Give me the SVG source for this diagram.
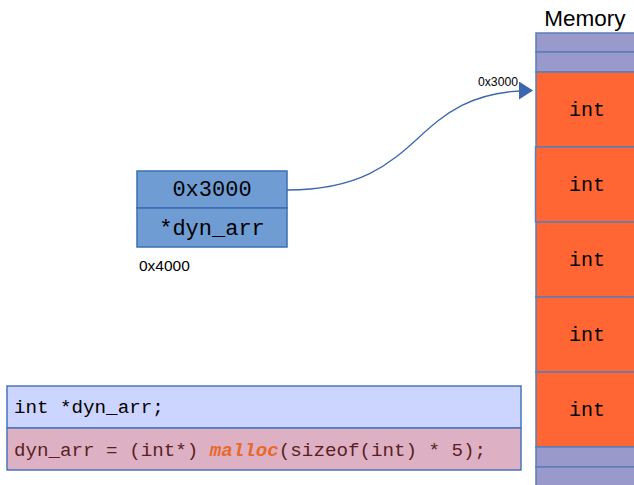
<svg xmlns="http://www.w3.org/2000/svg" width="634" height="485" viewBox="0 0 634 485">
  <style>
    .mono { font-family: "Liberation Mono", "DejaVu Sans Mono", monospace; }
    .sans { font-family: "Liberation Sans", Arial, sans-serif; }
    .cell { stroke: #5B7DB8; stroke-width: 1.5; }
    .free { fill: #9999CC; }
    .used { fill: #FF6633; }
    .celltxt { font-size: 20px; fill: #000; text-anchor: middle; }
  </style>
  <defs>
    <marker id="arrow" markerWidth="14" markerHeight="18" refX="13" refY="9" orient="auto" markerUnits="userSpaceOnUse">
      <path d="M0,0 L14,9 L0,18 Z" fill="#3A67B0"/>
    </marker>
  </defs>
  <rect width="634" height="485" fill="#FFFFFF"/>

  <g id="memory">
    <text class="sans" x="585" y="26" font-size="22.5" text-anchor="middle" fill="#000">Memory</text>
    <rect class="cell free" x="536" y="33" width="102" height="19"/>
    <rect class="cell free" x="536" y="52" width="102" height="20"/>
    <rect class="cell used" x="536" y="72" width="102" height="75"/>
    <rect class="cell used" x="535.5" y="147" width="102" height="75"/>
    <rect class="cell used" x="536" y="222" width="102" height="75"/>
    <rect class="cell used" x="536" y="297" width="102" height="75"/>
    <rect class="cell used" x="536" y="372" width="102" height="75"/>
    <rect class="cell free" x="536" y="447" width="102" height="20"/>
    <rect class="cell free" x="536" y="467" width="102" height="20"/>
    <text class="mono celltxt" x="587" y="116">int</text>
    <text class="mono celltxt" x="587" y="191">int</text>
    <text class="mono celltxt" x="587" y="266">int</text>
    <text class="mono celltxt" x="587" y="341">int</text>
    <text class="mono celltxt" x="587" y="416">int</text>
  </g>

  <g id="pointer">
    <rect x="137" y="171" width="150" height="37" fill="#6F9CD2" stroke="#3D6EB4" stroke-width="1.5"/>
    <rect x="137" y="208" width="150" height="39" fill="#6F9CD2" stroke="#3D6EB4" stroke-width="1.5"/>
    <text class="mono" x="212" y="196" font-size="22" text-anchor="middle" fill="#000">0x3000</text>
    <text class="mono" x="212" y="235" font-size="22" text-anchor="middle" fill="#000">*dyn_arr</text>
    <text class="sans" x="139" y="271" font-size="15.5" fill="#000">0x4000</text>
  </g>

  <g id="connectors">
    <path d="M287,190 C430,190 405,91 532,90.5" fill="none" stroke="#3A67B0" stroke-width="1.3" marker-end="url(#arrow)"/>
    <text class="sans" x="478" y="86" font-size="12.2" fill="#000">0x3000</text>
  </g>

  <g id="code">
    <rect x="7" y="386" width="514" height="42" fill="#CCD5FF" stroke="#4A76B8" stroke-width="1.5"/>
    <rect x="7" y="428" width="514" height="42" fill="#DDB1C3" stroke="#4A76B8" stroke-width="1.5"/>
    <text class="mono" x="14" y="413" font-size="19.2" fill="#000">int *dyn_arr;</text>
    <text class="mono" x="14" y="456" font-size="19.2" fill="#5A1E1E">dyn_arr = (int*) <tspan fill="#E8692C" font-weight="bold" font-style="italic">malloc</tspan>(sizeof(int) * 5);</text>
  </g>
</svg>
